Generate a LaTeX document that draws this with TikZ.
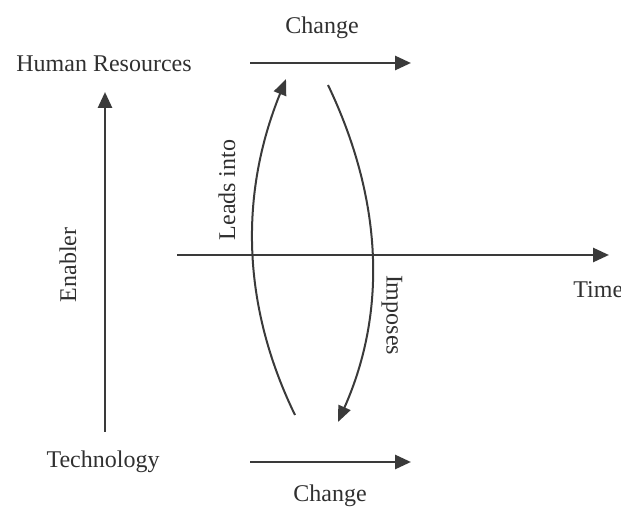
\documentclass[tikz,border=0pt]{standalone}
\usepackage{fontspec}
\setmainfont{Liberation Serif}
\usetikzlibrary{arrows.meta}
\definecolor{ln}{HTML}{3A3A3A}
\definecolor{tx}{HTML}{303030}
\tikzset{
  lbl/.style={text=tx, font=\fontsize{12}{14}\selectfont, inner sep=0pt},
  arr/.style={draw=ln, line width=1.4pt, -{Triangle[length=8pt,width=7pt]}},
  crv/.style={draw=ln, line width=1pt, -{Triangle[length=8pt,width=6.5pt]}},
}
\begin{document}
\begin{tikzpicture}[x=0.5pt,y=-0.5pt]
\useasboundingbox (0,0) rectangle (621,507);
\node[lbl] (hr) at (104,64) {Human Resources};
\node[lbl] (tech) at (103,462) {Technology};
\node[lbl] (ch1) at (322,28) {Change};
\node[lbl] (ch2) at (330,496) {Change};
\node[lbl, rotate=90] (en) at (68,265) {Enabler};
\node[lbl, rotate=90] (li) at (227,190) {Leads into};
\node[lbl, rotate=-90] (im) at (392,315) {Imposes};
\node[lbl, anchor=west] (time) at (573,290) {Time};
% coordinates
\coordinate (a1) at (250,63); \coordinate (a2) at (411,63);
\coordinate (b1) at (250,462); \coordinate (b2) at (411,462);
\coordinate (e1) at (105,432); \coordinate (e2) at (105,92);
\coordinate (t1) at (177,255); \coordinate (t2) at (609,255);
\coordinate (l1) at (295,415); \coordinate (l2) at (286,79);
\coordinate (i1) at (328,85); \coordinate (i2) at (338,422);
\draw[arr] (a1) -- (a2);
\draw[arr] (b1) -- (b2);
\draw[arr] (e1) -- (e2);
\draw[arr] (t1) -- (t2);
\draw[crv] (l1) .. controls (242,306) and (239,195) .. (l2);
\draw[crv] (i1) .. controls (383,200) and (387,312) .. (i2);
\end{tikzpicture}
\end{document}
